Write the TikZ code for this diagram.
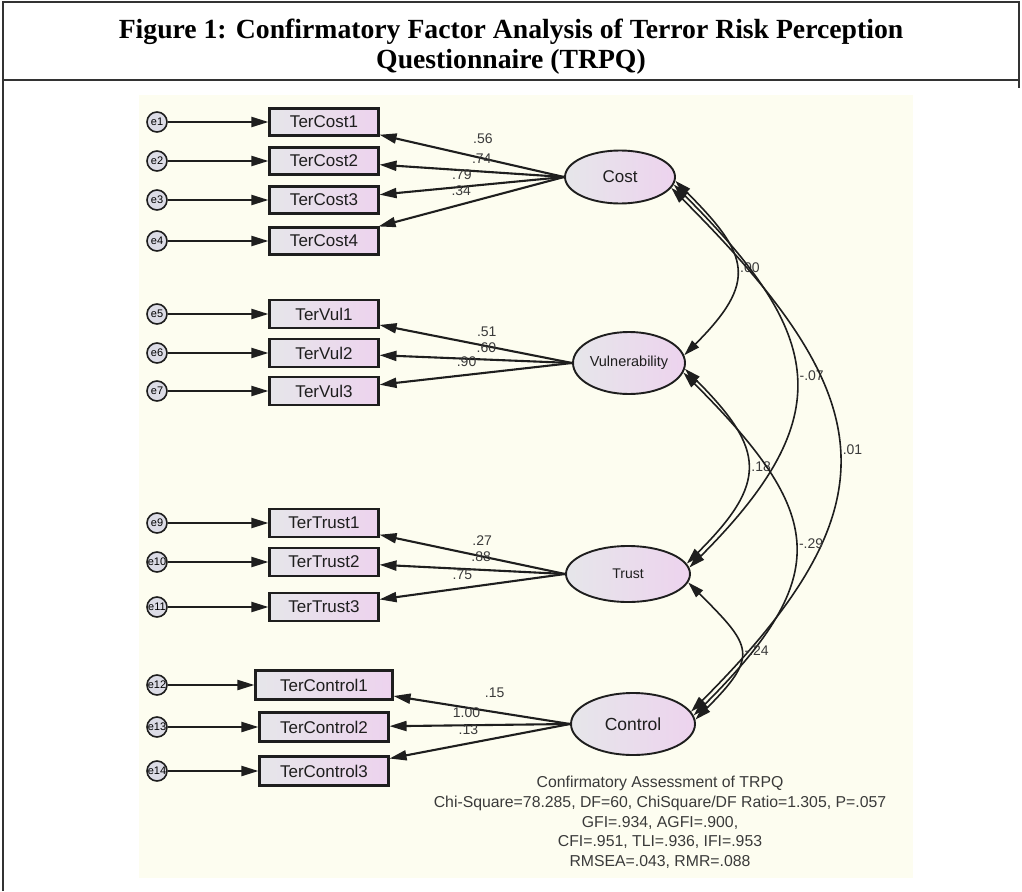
\documentclass[tikz,border=0pt]{standalone}
\usepackage{fontspec}
\setmainfont{Liberation Serif}
\newfontfamily\arialfont{Liberation Sans}
\usetikzlibrary{arrows.meta,shapes.geometric}

\definecolor{paper}{HTML}{FDFDF0}
\definecolor{boxL}{HTML}{E6E6EA}
\definecolor{boxR}{HTML}{EDD3EE}
\definecolor{errfill}{HTML}{DCDCE6}
\definecolor{ink}{HTML}{1E1E1E}
\definecolor{numink}{HTML}{3A3A3A}

\begin{document}
\begin{tikzpicture}[x=1pt,y=-1pt,
  frame/.style={line width=1.3pt, draw=black!80},
  obs/.style={draw=ink, line width=2.1pt, left color=boxL, right color=boxR,
    minimum width=109pt, minimum height=27pt, inner sep=0pt,
    text=ink, font=\arialfont\fontsize{17}{17}\selectfont},
  lat/.style={ellipse, draw=ink, line width=1.9pt, left color=boxL, right color=boxR,
    inner sep=0pt, text=ink},
  err/.style={circle, draw=ink, line width=1.6pt, fill=errfill,
    minimum size=20pt, inner sep=0pt, font=\arialfont\fontsize{11}{11}\selectfont},
  path/.style={draw=ink, line width=2.1pt, -{Triangle[length=17pt,width=10pt]}},
  cov/.style={draw=ink, line width=1.6pt,
    {Triangle[length=16pt,width=9.5pt]}-{Triangle[length=16pt,width=9.5pt]}},
  num/.style={inner sep=0pt, text=numink, font=\arialfont\fontsize{14}{14}\selectfont},
  cnum/.style={num, anchor=west, xshift=4pt}
]
\useasboundingbox (0,0) rectangle (1022,891);

% page frame and title row
\fill[paper] (139,95) rectangle (913,878);
\draw[frame] (3,891) -- (3,2) -- (1019,2) -- (1019,88);
\draw[frame] (3,80) -- (1019,80);
\node[align=center, font=\bfseries\fontsize{27.7}{30}\selectfont] (title) at (511,47)
  {Figure 1: Confirmatory Factor Analysis of Terror Risk Perception\\Questionnaire (TRPQ)};

% latent factors
\node[lat, minimum width=110pt, minimum height=53pt, font=\arialfont\fontsize{17}{17}\selectfont] (cost) at (620,177) {Cost};
\node[lat, minimum width=112pt, minimum height=62pt, font=\arialfont\fontsize{14.5}{14.5}\selectfont] (vul) at (629,363) {Vulnerability};
\node[lat, minimum width=124pt, minimum height=56pt, font=\arialfont\fontsize{14}{14}\selectfont] (trust) at (628,574) {Trust};
\node[lat, minimum width=124pt, minimum height=62pt, font=\arialfont\fontsize{17.5}{17.5}\selectfont] (control) at (633,724) {Control};

% observed indicators
\node[obs] (c1) at (324,122) {TerCost1};
\node[obs] (c2) at (324,161) {TerCost2};
\node[obs] (c3) at (324,200) {TerCost3};
\node[obs] (c4) at (324,241) {TerCost4};
\node[obs, minimum height=28pt] (v1) at (324,314) {TerVul1};
\node[obs, minimum height=28pt] (v2) at (324,353) {TerVul2};
\node[obs, minimum height=28pt] (v3) at (324,391) {TerVul3};
\node[obs, minimum height=28pt] (t1) at (324,523) {TerTrust1};
\node[obs, minimum height=28pt] (t2) at (324,562) {TerTrust2};
\node[obs, minimum height=28pt] (t3) at (324,607) {TerTrust3};
\node[obs, minimum width=137pt, minimum height=29pt] (k1) at (324,685) {TerControl1};
\node[obs, minimum width=129pt, minimum height=29pt] (k2) at (324,727) {TerControl2};
\node[obs, minimum width=129pt, minimum height=29pt] (k3) at (324,771) {TerControl3};

% error terms
\foreach \e/\y/\o in {e1/122/c1, e2/161/c2, e3/200/c3, e4/241/c4,
                      e5/314/v1, e6/353/v2, e7/391/v3,
                      e9/523/t1, e10/562/t2, e11/607/t3,
                      e12/685/k1, e13/727/k2, e14/771/k3}{
  \node[err] (\e) at (157,\y) {\e};
  \draw[path] (\e) -- (\o);
}

% factor loadings
\draw[path] (cost.west) -- (c1) node[num, pos=0.44, yshift=20pt] {.56};
\draw[path] (cost.west) -- (c2) node[num, pos=0.446, yshift=13pt] {.74};
\draw[path] (cost.west) -- (c3) node[num, pos=0.554, yshift=12pt] {.79};
\draw[path] (cost.west) -- (c4) node[num, pos=0.554, yshift=14pt] {.34};

\draw[path] (vul.west) -- (v1) node[num, pos=0.443, yshift=14.5pt] {.51};
\draw[path] (vul.west) -- (v2) node[num, pos=0.445, yshift=12pt] {.60};
\draw[path] (vul.west) -- (v3) node[num, pos=0.548, yshift=13pt] {.90};

\draw[path] (trust.west) -- (t1) node[num, pos=0.447, yshift=16pt] {.27};
\draw[path] (trust.west) -- (t2) node[num, pos=0.452, yshift=13.5pt] {.88};
\draw[path] (trust.west) -- (t3) node[num, pos=0.553, yshift=13pt] {.75};

\draw[path] (control.west) -- (k1) node[num, pos=0.427, yshift=19pt] {.15};
\draw[path] (control.west) -- (k2) node[num, pos=0.574, yshift=13pt] {1.00};
\draw[path] (control.west) -- (k3) node[num, pos=0.563, yshift=13.5pt] {.13};

% factor covariances
\draw[cov] (cost.-4) .. controls +(74,74) and +(74,-74) .. (vul.8)
  node[cnum, pos=0.5] {.00};
\draw[cov] (cost.-8) .. controls +(151,151) and +(151,-151) .. (trust.6)
  node[cnum, pos=0.5] {-.07};
\draw[cov] (cost.-12) .. controls +(209,209) and +(209,-209) .. (control.12)
  node[cnum, pos=0.5] {.01};
\draw[cov] (vul.-6) .. controls +(81,81) and +(81,-81) .. (trust.10)
  node[cnum, pos=0.5] {.18};
\draw[cov] (vul.-10) .. controls +(141,141) and +(141,-141) .. (control.8)
  node[cnum, pos=0.5] {-.29};
\draw[cov] (trust.-8) .. controls +(64,64) and +(64,-64) .. (control.4)
  node[cnum, pos=0.5] {-.24};

% fit statistics
\node[align=center, text=numink, font=\arialfont\fontsize{15.8}{19.7}\selectfont] (fit) at (660,822.5)
  {Confirmatory Assessment of TRPQ\\
   Chi-Square=78.285, DF=60, ChiSquare/DF Ratio=1.305, P=.057\\
   GFI=.934, AGFI=.900,\\
   CFI=.951, TLI=.936, IFI=.953\\
   RMSEA=.043, RMR=.088};
\end{tikzpicture}
\end{document}
